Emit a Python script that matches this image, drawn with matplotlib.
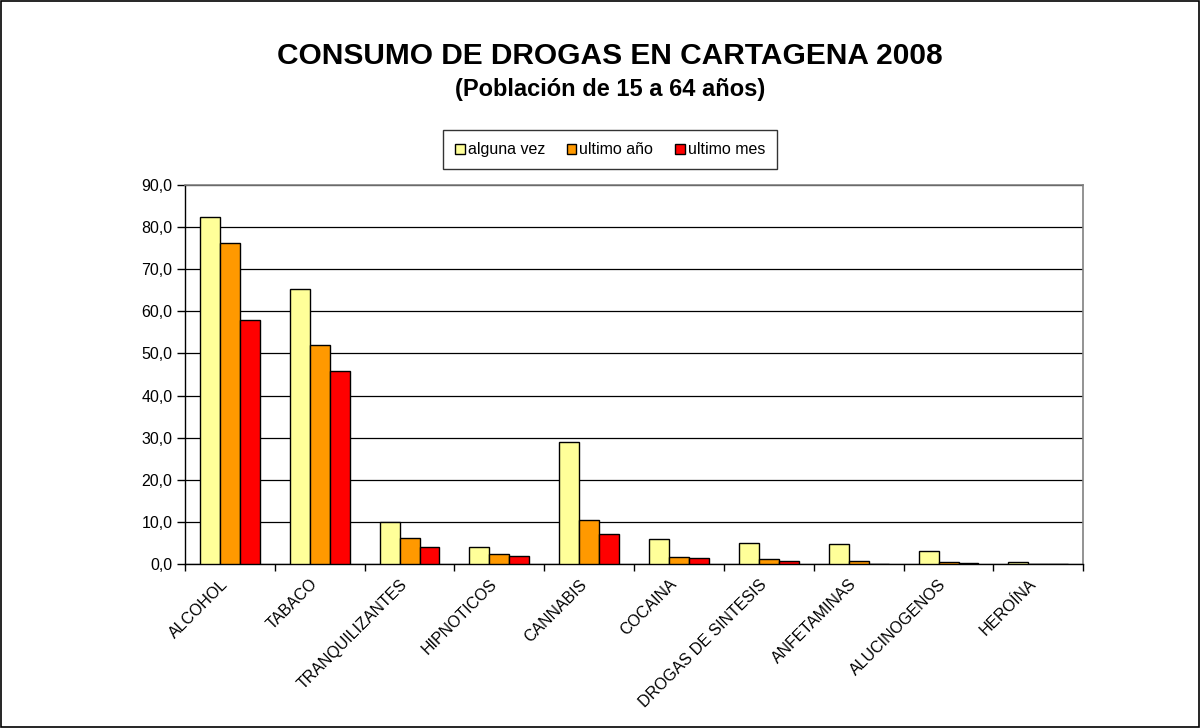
import matplotlib
matplotlib.use("Agg")
import matplotlib.pyplot as plt
import matplotlib.transforms as mtransforms
import numpy as np
from matplotlib.patches import Rectangle

plt.rcParams['font.family'] = ['Liberation Sans', 'DejaVu Sans']

categories = ["ALCOHOL", "TABACO", "TRANQUILIZANTES", "HIPNOTICOS", "CANNABIS",
              "COCAINA", "DROGAS DE SINTESIS", "ANFETAMINAS", "ALUCINOGENOS", "HEROÍNA"]
alguna_vez = [82.3, 65.3, 10.0, 4.1, 28.9, 5.9, 5.0, 4.7, 3.2, 0.4]
ultimo_ano = [76.2, 51.9, 6.2, 2.3, 10.5, 1.6, 1.1, 0.8, 0.5, 0.1]
ultimo_mes = [57.9, 45.8, 4.1, 1.8, 7.0, 1.4, 0.7, 0.1, 0.2, 0.1]
series_names = ["alguna vez", "ultimo año", "ultimo mes"]
series_colors = ["#FFFF99", "#FF9900", "#FF0000"]
yticks = np.arange(0, 91, 10)

small = 11.5

fig = plt.figure(figsize=(12.01, 7.28), dpi=100)
ax = fig.add_axes([0.154, 0.2253, 0.748, 0.5207])

x = np.arange(len(categories))
w = 2 / 3 / 3
for i, (vals, name, col) in enumerate(zip([alguna_vez, ultimo_ano, ultimo_mes],
                                          series_names, series_colors)):
    ax.bar(x + (i - 1) * w, vals, width=w, color=col, edgecolor="black",
           linewidth=1.0, label=name, zorder=3)

ax.set_xlim(-0.5, len(categories) - 0.5)
ax.set_ylim(0, 90)
ax.set_yticks(yticks)
ax.set_yticklabels([f"{v:.1f}".replace(".", ",") for v in yticks], fontsize=small)
ax.yaxis.grid(True, color="black", linewidth=0.9, zorder=0)
ax.set_axisbelow(True)

# category ticks sit between groups; labels at group centres
ax.set_xticks(np.arange(-0.5, len(categories), 1.0))
ax.set_xticklabels([])
ax.set_xticks(x, minor=True)
ax.set_xticklabels(categories, minor=True, rotation=45, ha="right", va="top",
                   rotation_mode="anchor", fontsize=small)
ax.tick_params(axis="x", which="minor", length=0, pad=9)
ax.tick_params(axis="x", which="major", length=5, width=1, direction="out")
ax.tick_params(axis="y", length=6, width=1, direction="out", pad=3)

# nudge the slanted category labels a little to the left
shift = mtransforms.ScaledTranslation(-10 / 100, 0, fig.dpi_scale_trans)
for lbl in ax.get_xticklabels(minor=True):
    lbl.set_transform(lbl.get_transform() + shift)

for side in ["left", "bottom"]:
    ax.spines[side].set_color("black")
    ax.spines[side].set_linewidth(1.0)
for side in ["top", "right"]:
    ax.spines[side].set_color("#808080")
    ax.spines[side].set_linewidth(1.2)

fig.text(0.508, 0.923, "CONSUMO DE DROGAS EN CARTAGENA 2008", ha="center",
         va="center", fontsize=21.5, fontweight="bold")
fig.text(0.508, 0.877, "(Población de 15 a 64 años)", ha="center",
         va="center", fontsize=17, fontweight="bold")

leg = fig.legend(loc="center", bbox_to_anchor=(0.508, 0.794), ncol=3,
                 fontsize=small, frameon=True, fancybox=False, edgecolor="black",
                 handlelength=0.6, handleheight=0.6, handletextpad=0.2,
                 columnspacing=1.35, borderpad=0.75)
leg.get_frame().set_linewidth(1.0)

fig.patches.append(Rectangle((0.001, 0.001), 0.997, 0.997, transform=fig.transFigure,
                             fill=False, edgecolor="black", linewidth=1.2))

fig.savefig("out.png", dpi=100)
